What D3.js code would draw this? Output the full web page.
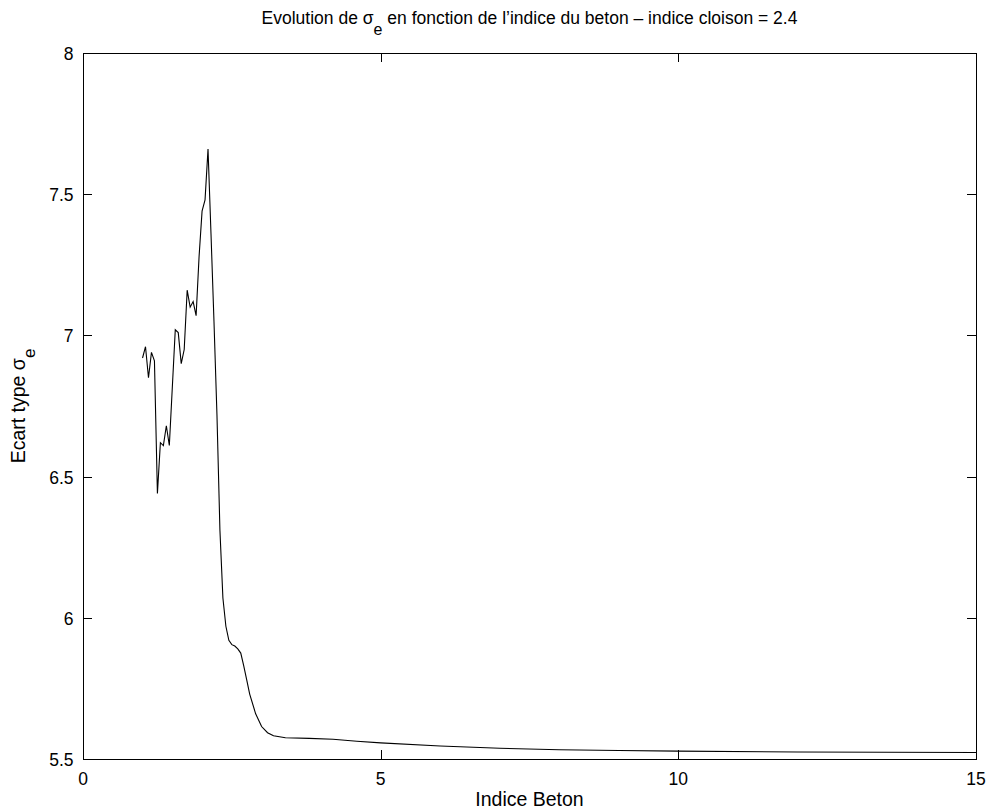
<!DOCTYPE html>
<html>
<head>
<meta charset="utf-8">
<script src="https://cdn.jsdelivr.net/npm/d3@7"></script>
<style>
  html, body { margin: 0; padding: 0; background: #fff; }
  svg { display: block; font-family: "Liberation Sans", Arial, Helvetica, sans-serif; }
</style>
</head>
<body>
<svg id="chart" width="993" height="809"></svg>
<script>
// Data
const indiceBeton = [1.00,1.05,1.10,1.15,1.20,1.25,1.30,1.35,1.40,1.45,1.55,1.60,1.65,1.70,1.75,1.80,1.85,1.90,1.95,2.00,2.05,2.10,2.15,2.20,2.25,2.30,2.35,2.40,2.45,2.50,2.55,2.60,2.65,2.70,2.75,2.80,2.90,3.00,3.10,3.20,3.40,3.80,4.20,4.60,5.00,6.00,7.00,8.00,9.00,10.00,12.00,15.00];
const ecartType = [6.92,6.96,6.85,6.94,6.91,6.44,6.62,6.61,6.68,6.61,7.02,7.01,6.90,6.95,7.16,7.10,7.12,7.07,7.28,7.44,7.48,7.66,7.36,7.05,6.72,6.31,6.07,5.97,5.92,5.905,5.90,5.89,5.875,5.83,5.78,5.73,5.66,5.615,5.593,5.582,5.575,5.573,5.570,5.563,5.557,5.546,5.538,5.533,5.530,5.528,5.525,5.523];
const xTicks = [0, 5, 10, 15];
const yTicks = [5.5, 6, 6.5, 7, 7.5, 8];
const xLabels = ["0", "5", "10", "15"];
const yLabels = ["5.5", "6", "6.5", "7", "7.5", "8"];

const svg = d3.select("#chart");
const L = 83, R = 976, T = 53, B = 759;
const x = d3.scaleLinear().domain([0, 15]).range([L, R]);
const y = d3.scaleLinear().domain([5.5, 8]).range([B, T]);
const tickLen = 9;
const fs = 17.5;

// box
svg.append("rect").attr("x", L + 0.5).attr("y", T + 0.5).attr("width", R - L).attr("height", B - T)
  .attr("fill", "none").attr("stroke", "#000").attr("stroke-width", 1);

// x ticks (bottom & top, inward)
const xg = svg.append("g");
xTicks.forEach((t, i) => {
  const px = Math.round(x(t)) + 0.5;
  xg.append("line").attr("x1", px).attr("x2", px).attr("y1", B).attr("y2", B - tickLen).attr("stroke", "#000");
  xg.append("line").attr("x1", px).attr("x2", px).attr("y1", T).attr("y2", T + tickLen).attr("stroke", "#000");
  xg.append("text").attr("x", x(t)).attr("y", 785).attr("text-anchor", "middle")
    .attr("font-size", fs).text(xLabels[i]);
});
// y ticks (left & right, inward)
const yg = svg.append("g");
yTicks.forEach((t, i) => {
  const py = Math.round(y(t)) + 0.5;
  yg.append("line").attr("x1", L).attr("x2", L + tickLen).attr("y1", py).attr("y2", py).attr("stroke", "#000");
  yg.append("line").attr("x1", R).attr("x2", R - tickLen).attr("y1", py).attr("y2", py).attr("stroke", "#000");
  yg.append("text").attr("x", 73.5).attr("y", y(t) + 7).attr("text-anchor", "end")
    .attr("font-size", fs).text(yLabels[i]);
});

// line
const line = d3.line().x((d, i) => x(indiceBeton[i])).y(d => y(d));
svg.append("path").datum(ecartType).attr("d", line)
  .attr("fill", "none").attr("stroke", "#000").attr("stroke-width", 1.1);

// title
const title = svg.append("text").attr("x", (L + R) / 2).attr("y", 24)
  .attr("text-anchor", "middle").attr("font-size", 17.5);
title.append("tspan").text("Evolution de σ");
title.append("tspan").attr("dy", 11).attr("font-size", 16).text("e");
title.append("tspan").attr("dy", -11).text(" en fonction de l\u2019indice du beton \u2013 indice cloison = 2.4");

// x label
svg.append("text").attr("x", (L + R) / 2).attr("y", 806).attr("text-anchor", "middle")
  .attr("font-size", 19.5).text("Indice Beton");

// y label
const yl = svg.append("text").attr("transform", `translate(25, ${(T + B) / 2}) rotate(-90)`)
  .attr("text-anchor", "middle").attr("font-size", 19.5);
yl.append("tspan").text("Ecart type σ");
yl.append("tspan").attr("dy", 10).attr("font-size", 17).text("e");
</script>
</body>
</html>
